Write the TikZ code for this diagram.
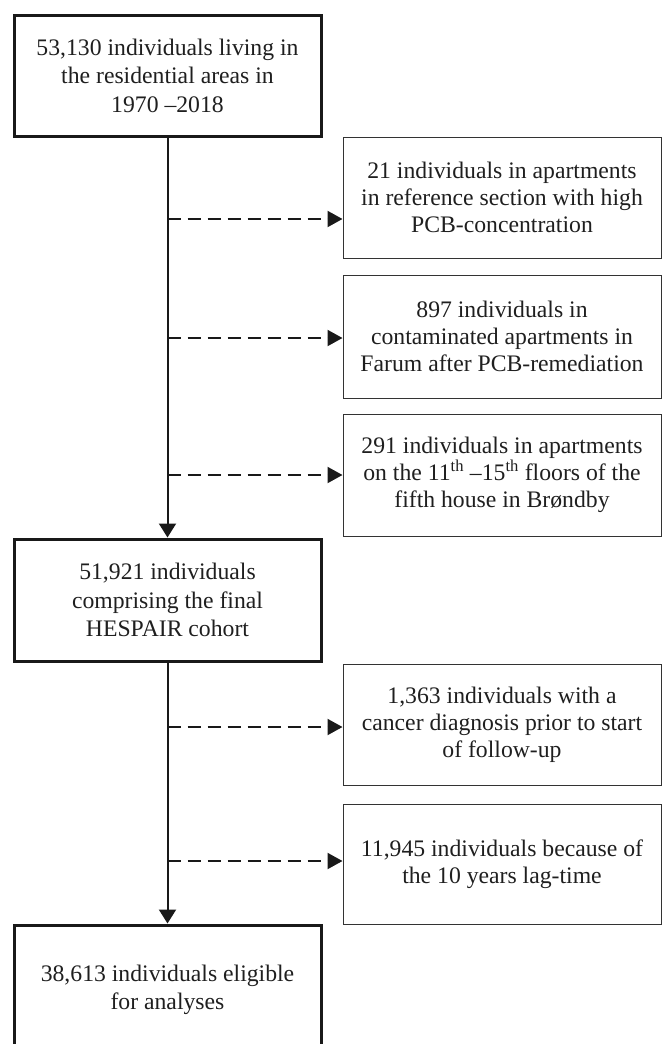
\documentclass[tikz,border=0pt]{standalone}
\usepackage{fontspec}
\setmainfont{Liberation Serif}
\usetikzlibrary{arrows.meta}
\begin{document}
\begin{tikzpicture}[x=1pt,y=-1pt,
  mainbox/.style={draw=black!90, text=black!88, line width=3pt, minimum width=307pt, inner sep=0pt, align=center, font=\fontsize{23.7}{28.5}\selectfont},
  sidebox/.style={draw=black!80, text=black!88, line width=1pt, minimum width=318pt, inner sep=0pt, align=center, font=\fontsize{23.7}{27}\selectfont},
  flow/.style={draw=black!90, line width=2pt, -{Triangle[length=14pt,width=17pt]}},
  excl/.style={draw=black!90, line width=2pt, dash pattern=on 13pt off 7pt, -{Triangle[length=15pt,width=16pt]}}
]
\useasboundingbox (0,0) rectangle (662,1044);
\clip (0,0) rectangle (662,1044);
% main boxes
\node[mainbox, minimum height=121pt] (top) at (167.5,75.5) {53,130 individuals living in\\the residential areas in\\1970 \textendash2018};
\node[mainbox, minimum height=122pt] (mid) at (167.5,600) {51,921 individuals\\comprising the final\\HESPAIR cohort};
\node[mainbox, minimum height=130pt] (bot) at (167.5,990) {38,613 individuals eligible\\for analyses};
% side boxes
\node[sidebox, minimum height=121pt] (s1) at (502,197.5) {21 individuals in apartments\\in reference section with high\\PCB-concentration};
\node[sidebox, minimum height=123pt] (s2) at (502,336.5) {897 individuals in\\contaminated apartments in\\Farum after PCB-remediation};
\node[sidebox, minimum height=122pt] (s3) at (502,475) {291 individuals in apartments\\on the 11\textsuperscript{th} \textendash15\textsuperscript{th} floors of the\\fifth house in Brøndby};
\node[sidebox, minimum height=121pt] (s4) at (502,724.5) {1,363 individuals with a\\cancer diagnosis prior to start\\of follow-up};
\node[sidebox, minimum height=120pt] (s5) at (502,864) {11,945 individuals because of\\the 10 years lag-time};
% main flow
\draw[flow] (top.south) -- (mid.north);
\draw[flow] (mid.south) -- (bot.north);
% branch points
\coordinate (b1) at (167.5,219);
\coordinate (b2) at (167.5,338);
\coordinate (b3) at (167.5,475);
\coordinate (b4) at (167.5,727);
\coordinate (b5) at (167.5,861);
\draw[excl] (b1) -- (b1 -| s1.west);
\draw[excl] (b2) -- (b2 -| s2.west);
\draw[excl] (b3) -- (b3 -| s3.west);
\draw[excl] (b4) -- (b4 -| s4.west);
\draw[excl] (b5) -- (b5 -| s5.west);
\end{tikzpicture}
\end{document}
